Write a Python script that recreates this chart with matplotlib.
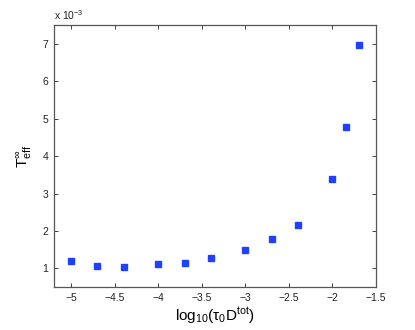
import matplotlib
matplotlib.use("Agg")
import matplotlib.pyplot as plt
from matplotlib.ticker import FuncFormatter, FixedLocator

log_tauD = [-5.0, -4.7, -4.4, -4.0, -3.7, -3.4, -3.0, -2.7, -2.4, -2.0, -1.85, -1.7]
T_eff = [1.20e-3, 1.06e-3, 1.05e-3, 1.11e-3, 1.14e-3, 1.29e-3, 1.50e-3, 1.79e-3,
         2.17e-3, 3.39e-3, 4.79e-3, 6.98e-3]
xticks = [-5, -4.5, -4, -3.5, -3, -2.5, -2, -1.5]
yticks = [1e-3, 2e-3, 3e-3, 4e-3, 5e-3, 6e-3, 7e-3]

plt.rcParams['font.family'] = ['Liberation Sans', 'DejaVu Sans']
plt.rcParams['mathtext.fontset'] = 'custom'
plt.rcParams['mathtext.rm'] = 'Liberation Sans'
plt.rcParams['mathtext.it'] = 'Liberation Sans'

fig = plt.figure(figsize=(4.15, 3.30), dpi=100)
ax = fig.add_axes([0.130, 0.130, 0.776, 0.794])
ax.plot(log_tauD, T_eff, linestyle='none', marker='s', markersize=4.6,
        color='#2040ff', markeredgecolor='#2040ff')
ax.set_xlim(-5.2, -1.5)
ax.set_ylim(0.5e-3, 7.5e-3)
ax.xaxis.set_major_locator(FixedLocator(xticks))
ax.yaxis.set_major_locator(FixedLocator(yticks))
ax.xaxis.set_major_formatter(FuncFormatter(lambda v, p: ('%g' % v).replace('-', '\u2212')))
ax.yaxis.set_major_formatter(FuncFormatter(lambda v, p: '%g' % round(v / 1e-3, 6)))
ax.tick_params(direction='in', length=3, width=0.6, labelsize=7.5, colors='#222222',
               top=True, right=True, pad=4)
for s in ax.spines.values():
    s.set_color('#555555')
    s.set_linewidth(0.9)
ax.text(0.0, 1.01, r'x 10$^{-3}$', transform=ax.transAxes, fontsize=7.5,
        ha='left', va='bottom', color='#222222')
ax.set_xlabel(r'log$_{10}$($\tau_0$D$^{\mathrm{tot}}$)', fontsize=11, labelpad=2)
ax.set_ylabel(r'T$^{\infty}_{\mathrm{eff}}$', fontsize=11, labelpad=6)
fig.savefig('out.png', dpi=100)
